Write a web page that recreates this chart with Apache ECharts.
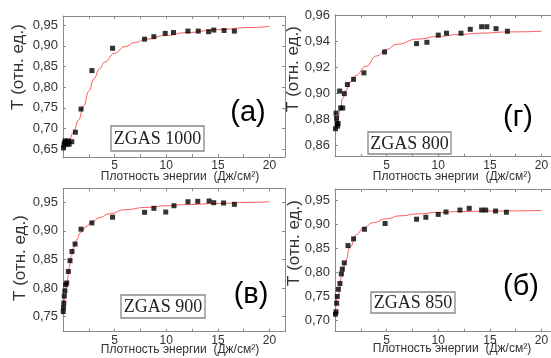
<!DOCTYPE html>
<html><head><meta charset="utf-8">
<script src="https://cdn.jsdelivr.net/npm/echarts@6/dist/echarts.min.js"></script>
<style>html,body{margin:0;padding:0;background:#fff}#c{width:551px;height:358px}</style>
</head><body><div id="c"></div>
<script>
// ---- Panel (а) ZGAS 1000 ----
const xA = [0.05,0.1,0.15,0.2,0.3,0.4,0.5,0.6,0.85,1.2,1.75,2.8,4.8,7.9,8.8,9.9,10.7,12.1,13.1,14.1,14.6,15.6,16.6];
const yA = [0.653,0.660,0.665,0.670,0.668,0.662,0.670,0.662,0.668,0.691,0.747,0.840,0.894,0.916,0.922,0.930,0.932,0.9355,0.9355,0.934,0.938,0.937,0.9355];
const fitXA = [0,0.5,1,1.5,2,2.5,3,3.5,4,5,6,7,8,10,12,15,18,20];
const fitYA = [0.643,0.665,0.690,0.720,0.755,0.790,0.820,0.843,0.860,0.882,0.898,0.908,0.916,0.925,0.932,0.939,0.944,0.947];
const ticksA = [0.65,0.70,0.75,0.80,0.85,0.90,0.95];

// ---- Panel (г) ZGAS 800 ----
const xG = [0.05,0.1,0.15,0.2,0.25,0.3,0.45,0.55,0.75,0.9,1.2,1.8,2.8,4.8,7.9,8.9,10,10.8,12.2,13.1,14.2,14.7,15.6,16.7];
const yG = [0.873,0.885,0.881,0.877,0.875,0.877,0.902,0.889,0.889,0.900,0.907,0.911,0.916,0.932,0.9385,0.9395,0.945,0.9465,0.9465,0.9495,0.9515,0.9515,0.950,0.948];
const fitXG = [0,0.25,0.5,0.75,1,1.5,2,3,4,5,6,8,10,12,14,17,20];
const fitYG = [0.873,0.880,0.888,0.896,0.902,0.909,0.914,0.921,0.929,0.934,0.938,0.942,0.944,0.9455,0.9465,0.9475,0.948];
const ticksG = [0.86,0.88,0.90,0.92,0.94,0.96];

// ---- Panel (в) ZGAS 900 ----
const xV = [0.02,0.05,0.08,0.12,0.18,0.26,0.36,0.52,0.68,0.87,1.17,1.75,2.8,4.8,7.9,8.8,9.95,10.75,12.1,13.05,14.15,14.6,15.55,16.6];
const yV = [0.759,0.766,0.774,0.786,0.795,0.806,0.809,0.829,0.848,0.864,0.877,0.903,0.914,0.924,0.9325,0.9395,0.933,0.944,0.951,0.9517,0.9523,0.9493,0.9488,0.9465];
const fitXV = [0,0.2,0.4,0.6,0.8,1.0,1.3,1.7,2.2,2.8,3.5,4.5,6,8,10,12,15,18,20];
const fitYV = [0.755,0.785,0.812,0.836,0.856,0.870,0.884,0.897,0.907,0.916,0.923,0.930,0.937,0.941,0.944,0.946,0.948,0.950,0.951];
const ticksV = [0.75,0.80,0.85,0.90,0.95];

// ---- Panel (б) ZGAS 850 ----
const xB = [0.05,0.1,0.16,0.22,0.32,0.48,0.61,0.71,0.9,1.26,1.8,2.85,4.85,7.9,8.8,10.0,10.75,12.1,13.0,14.2,14.6,15.55,16.6];
const yB = [0.712,0.717,0.735,0.749,0.764,0.776,0.796,0.806,0.819,0.855,0.869,0.889,0.901,0.910,0.914,0.920,0.925,0.929,0.9326,0.929,0.929,0.927,0.9245];
const fitXB = [0,0.3,0.65,1.0,1.45,2.1,2.75,3.7,5,6.3,8,10,12,15,20];
const fitYB = [0.707,0.752,0.790,0.820,0.852,0.878,0.892,0.903,0.911,0.917,0.921,0.924,0.926,0.927,0.928];
const ticksB = [0.70,0.75,0.80,0.85,0.90,0.95];

const xTicks = [0,5,10,15,20];
const xMinor = [2.5,7.5,12.5,17.5];
const xTitle = 'Плотность энергии  (Дж/см²)';
const yTitle = 'T (отн. ед.)';

const panels = [
  {grid:{left:63,top:16,width:222,height:141}, ymin:0.631, ymax:0.972, yt_:ticksA, xs:xA, ys:yA, fx:fitXA, fy:fitYA,
   tag:'(а)', tagPos:[248,113], box:'ZGAS 1000', boxRect:[111,126,93,25], xt:[180,177], yt:[18,67]},
  {grid:{left:335,top:15,width:222,height:141.7}, ymin:0.8515, ymax:0.9605, yt_:ticksG, xs:xG, ys:yG, fx:fitXG, fy:fitYG,
   tag:'(г)', tagPos:[518,118], box:'ZGAS 800', boxRect:[368,132,83,22], xt:[452,177], yt:[293,69]},
  {grid:{left:63,top:188.3,width:222,height:143.4}, ymin:0.7238, ymax:0.9745, yt_:ticksV, xs:xV, ys:yV, fx:fitXV, fy:fitYV,
   tag:'(в)', tagPos:[251,295], box:'ZGAS 900', boxRect:[121,295,84,23], xt:[180,350], yt:[20,258]},
  {grid:{left:335,top:189,width:222,height:142.7}, ymin:0.6756, ymax:0.9729, yt_:ticksB, xs:xB, ys:yB, fx:fitXB, fy:fitYB,
   tag:'(б)', tagPos:[521,287], box:'ZGAS 850', boxRect:[371,292,84,21], xt:[452,349], yt:[294,243]}
];

const axisCol = '#8a8a8a';
const grids = [], xAxes = [], yAxes = [], series = [], graphics = [];
panels.forEach((p, i) => {
  grids.push(Object.assign({containLabel:false, outerBoundsMode:'none'}, p.grid));
  const xBase = {gridIndex:i, type:'value', min:0, max:21.5,
    axisLine:{show:true, onZero:false, lineStyle:{color:axisCol, width:1}},
    axisTick:{show:true, inside:true, length:3, customValues:xTicks.concat(xMinor), lineStyle:{color:axisCol}},
    splitLine:{show:false}};
  xAxes.push(Object.assign({}, xBase, {position:'bottom',
    axisLabel:{show:true, margin:3, fontSize:12, color:'#333', fontFamily:'Liberation Sans, Arial, sans-serif',
      customValues:xTicks.filter(v => v > 0), formatter:v => String(v)}}));
  xAxes.push(Object.assign({}, xBase, {position:'top', axisLabel:{show:false}}));
  const yBase = {gridIndex:i, type:'value', min:p.ymin, max:p.ymax,
    axisLine:{show:true, onZero:false, lineStyle:{color:axisCol, width:1}},
    axisTick:{show:true, inside:true, length:3, customValues:p.yt_, lineStyle:{color:axisCol}},
    splitLine:{show:false}};
  yAxes.push(Object.assign({}, yBase, {position:'left',
    axisLabel:{show:true, margin:5, fontSize:13, color:'#333', fontFamily:'Liberation Sans, Arial, sans-serif',
      customValues:p.yt_, formatter:v => v.toFixed(2).replace('.', ',')}}));
  yAxes.push(Object.assign({}, yBase, {position:'right', axisLabel:{show:false}}));

  series.push({type:'line', xAxisIndex:2*i, yAxisIndex:2*i, data:p.fx.map((x, j) => [x, p.fy[j]]),
    smooth:true, smoothMonotone:'x', showSymbol:false, symbol:'none', silent:true,
    lineStyle:{color:'#ff5a5a', width:1}, z:2});
  series.push({type:'scatter', xAxisIndex:2*i, yAxisIndex:2*i, data:p.xs.map((x, j) => [x, p.ys[j]]),
    symbol:'rect', symbolSize:5, itemStyle:{color:'#000'}, z:3});

  graphics.push({type:'text', x:p.tagPos[0], y:p.tagPos[1],
    style:{text:p.tag, font:'29px "Liberation Sans", Arial, sans-serif', fill:'#000', textAlign:'center', textVerticalAlign:'middle'}, z:10});
  graphics.push({type:'rect', shape:{x:p.boxRect[0], y:p.boxRect[1], width:p.boxRect[2], height:p.boxRect[3]},
    style:{fill:'#fff', stroke:'#888', lineWidth:1.3}, z:10});
  graphics.push({type:'text', x:p.boxRect[0] + p.boxRect[2] / 2, y:p.boxRect[1] + p.boxRect[3] / 2 + 1,
    style:{text:p.box, font:'18px "Liberation Serif", "Times New Roman", serif', fill:'#222', textAlign:'center', textVerticalAlign:'middle'}, z:11});
  graphics.push({type:'text', x:p.xt[0], y:p.xt[1],
    style:{text:xTitle, font:'12px "Liberation Sans", Arial, sans-serif', fill:'#333', textAlign:'center', textVerticalAlign:'middle'}, z:10});
  graphics.push({type:'text', x:p.yt[0], y:p.yt[1], rotation:Math.PI / 2,
    style:{text:yTitle, font:'17px "Liberation Sans", Arial, sans-serif', fill:'#333', textAlign:'center', textVerticalAlign:'middle'}, z:10});
});

const chart = echarts.init(document.getElementById('c'), null, {renderer:'canvas'});
chart.setOption({
  animation:false,
  backgroundColor:'#fff',
  grid:grids, xAxis:xAxes, yAxis:yAxes, series:series, graphic:graphics
});
</script>
</body></html>
